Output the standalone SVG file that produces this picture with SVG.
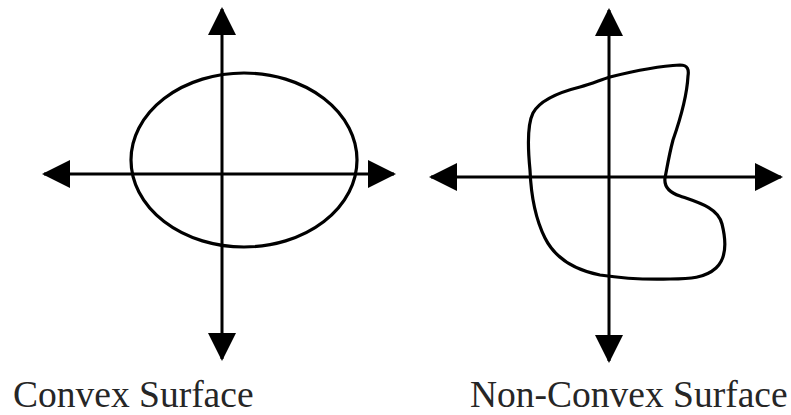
<svg xmlns="http://www.w3.org/2000/svg" width="791" height="415" viewBox="0 0 791 415">
<style>
.ax{stroke:#000;stroke-width:3;fill:none}
.shape{stroke:#000;stroke-width:3.2;fill:none;stroke-linejoin:round}
.lbl{font-family:"Liberation Serif","Times New Roman",serif;font-size:37.5px;fill:#262626}
</style>
<defs>
<marker id="ah" markerUnits="userSpaceOnUse" markerWidth="28" markerHeight="28" viewBox="0 0 28 28" refX="26" refY="14" orient="auto-start-reverse">
<path d="M0,0 L28,14 L0,28 Z" fill="#000"/>
</marker>
</defs>
<rect width="791" height="415" fill="#fff"/>
<g id="connectors">
<line class="ax" x1="222" y1="9" x2="222" y2="359" marker-start="url(#ah)" marker-end="url(#ah)"/>
<line class="ax" x1="44" y1="174" x2="394" y2="174" marker-start="url(#ah)" marker-end="url(#ah)"/>
<line class="ax" x1="609" y1="10" x2="609" y2="361" marker-start="url(#ah)" marker-end="url(#ah)"/>
<line class="ax" x1="431" y1="177" x2="781" y2="177" marker-start="url(#ah)" marker-end="url(#ah)"/>
</g>
<g id="convex">
<ellipse class="shape" cx="244" cy="160" rx="113" ry="87"/>
</g>
<g id="nonconvex">
<path class="shape" d="M610,77 C630,72 660,66 680,65 C688,65 689,70 688,76 C687,95 680,120 673,140 C669,155 667,168 665,178 C664,186 668,192 680,196 C700,203 718,208 722,224 C726,240 727,258 716,268 C705,278 690,279 670,279 C640,280 620,278 600,275 C575,270 555,258 545,238 C535,218 531,195 530,170 C528,150 527,125 533,113 C540,100 560,92 580,87 C592,84 600,80 610,77 Z"/>
</g>
<g id="label-convex">
<text class="lbl" x="13" y="407">Convex Surface</text>
</g>
<g id="label-nonconvex">
<text class="lbl" x="470" y="407">Non-Convex Surface</text>
</g>
</svg>
